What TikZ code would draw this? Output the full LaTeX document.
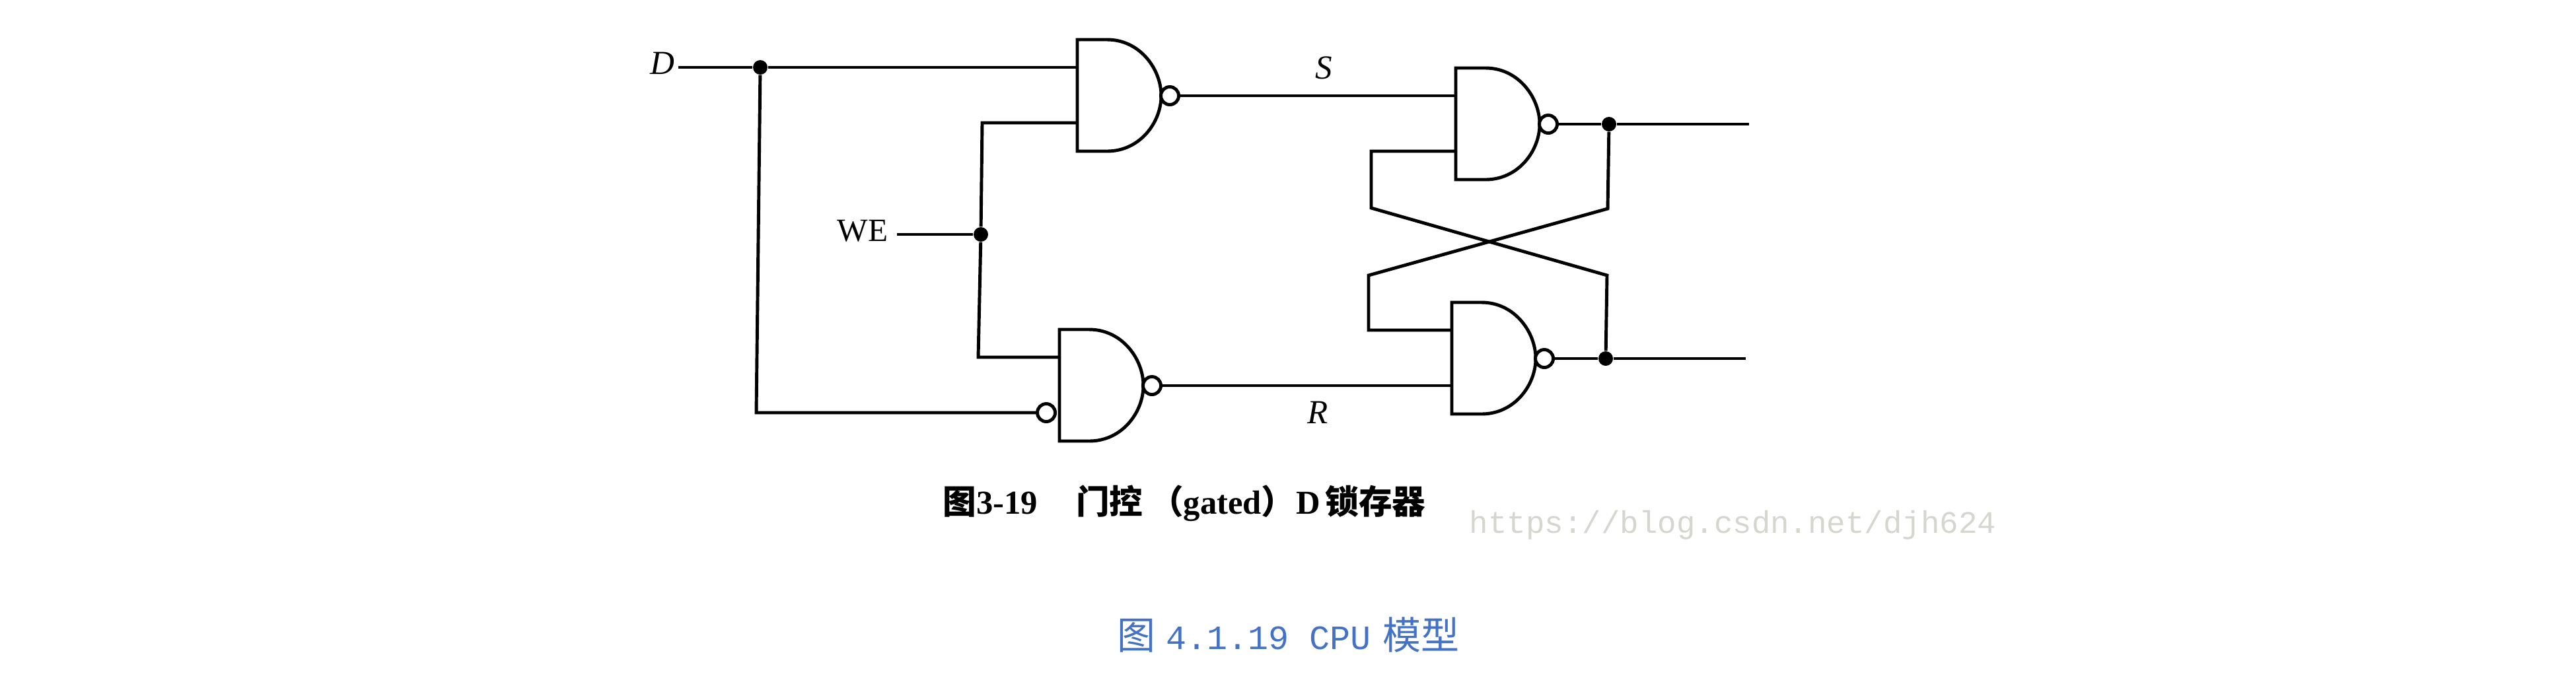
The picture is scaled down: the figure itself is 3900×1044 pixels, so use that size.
\documentclass[tikz,border=0pt]{standalone}
\usepackage{fontspec}
\setmainfont{Liberation Serif}
\setmonofont{Liberation Mono}
\newfontfamily\cjk{Noto Sans CJK SC}
\definecolor{capblue}{HTML}{4472C4}
\definecolor{wmgray}{HTML}{D6D6D0}
\tikzset{
  wire/.style={line width=1.4pt,line join=miter,line cap=butt},
  gatebody/.style={line width=1.4pt,fill=white,line join=miter},
  bubble/.style={circle,draw,line width=1.4pt,fill=white,inner sep=0pt,minimum size=0.27cm},
  junction/.style={circle,fill=black,inner sep=0pt,minimum size=0.22cm},
  sig/.style={inner sep=0pt,font=\fontsize{14pt}{15pt}\selectfont},
  sigit/.style={sig,font=\fontsize{14.5pt}{15pt}\selectfont\itshape},
  nandgate/.pic={
    \draw[gatebody] (0,0) -- (45,0) .. controls (95,0) and (127,45) .. (127,85)
      .. controls (127,125) and (95,169) .. (45,169) -- (0,169) -- cycle;
    \coordinate (-a) at (0,42);
    \coordinate (-b) at (0,126);
    \node[bubble] (-o) at (140,85) {};
  }
}
\begin{document}
\begin{tikzpicture}[x=0.01cm,y=-0.01cm]
\useasboundingbox (0,0) rectangle (3900,1044);

% gates
\pic (g1) at (1631,60) {nandgate};
\pic (g2) at (1604,499) {nandgate};
\pic (g3) at (2204,103) {nandgate};
\pic (g4) at (2198,458) {nandgate};
\node[bubble] (inv) at (1584,625) {};

% labels
\node[sigit] (D) at (1003,96) {D};
\node[sig] (WE) at (1306,350) {WE};
\node[sigit] (S) at (2004,103) {S};
\node[sigit] (R) at (1995,625) {R};

% junctions
\node[junction] (jd) at (1151,102) {};
\node[junction] (jwe) at (1485,355) {};
\node[junction] (jq) at (2436,188) {};
\node[junction] (jn) at (2431,543) {};

% free ends and bends
\coordinate (dstart) at (1027,102);
\coordinate (westart) at (1358,355);
\coordinate (qend) at (2648,188);
\coordinate (nend) at (2643,543);
\coordinate (dbot) at (1145,625);
\coordinate (wetop) at (1487,186);
\coordinate (webot) at (1481,541);
\coordinate (x1) at (2076,229);
\coordinate (x2) at (2076,315);
\coordinate (x3) at (2433,417);
\coordinate (y1) at (2072,500);
\coordinate (y2) at (2072,417);
\coordinate (y3) at (2434,316);

% connectors
\draw[wire] (dstart) -- (jd);
\draw[wire] (jd) -- (g1-a);
\draw[wire] (jd) -- (dbot) -- (inv);
\draw[wire] (westart) -- (jwe);
\draw[wire] (jwe) -- (wetop) -- (g1-b);
\draw[wire] (jwe) -- (webot) -- (g2-a);
\draw[wire] (g1-o) -- (g3-a);
\draw[wire] (g2-o) -- (g4-b);
\draw[wire] (g3-o) -- (jq);
\draw[wire] (jq) -- (qend);
\draw[wire] (g4-o) -- (jn);
\draw[wire] (jn) -- (nend);
\draw[wire] (g3-b) -- (x1) -- (x2) -- (x3) -- (jn);
\draw[wire] (g4-a) -- (y1) -- (y2) -- (y3) -- (jq);

% captions
\node[inner sep=0pt,anchor=west] (cap1) at (1427,762)
  {\fontsize{14.4pt}{16pt}\selectfont\bfseries
   {\cjk 图}3-19\hspace{16.5pt}{\cjk 门控}\hspace{3pt}{\cjk （}gated{\cjk ）}\hspace{0.7pt}D\hspace{2pt}{\cjk 锁存器}};
\node[inner sep=0pt,anchor=west,text=wmgray] (wm) at (2224,795)
  {\fontsize{13.5pt}{15pt}\selectfont\ttfamily https://blog.csdn.net/djh624};
\node[inner sep=0pt,anchor=west,text=capblue] (cap2) at (1691,961)
  {\fontsize{14.7pt}{18pt}\selectfont{\fontsize{16.5pt}{18pt}\selectfont\cjk 图}\hspace{4.5pt}{\ttfamily 4.1.19 CPU}\hspace{5pt}{\fontsize{16.5pt}{18pt}\selectfont\cjk 模型}};
\end{tikzpicture}
\end{document}
